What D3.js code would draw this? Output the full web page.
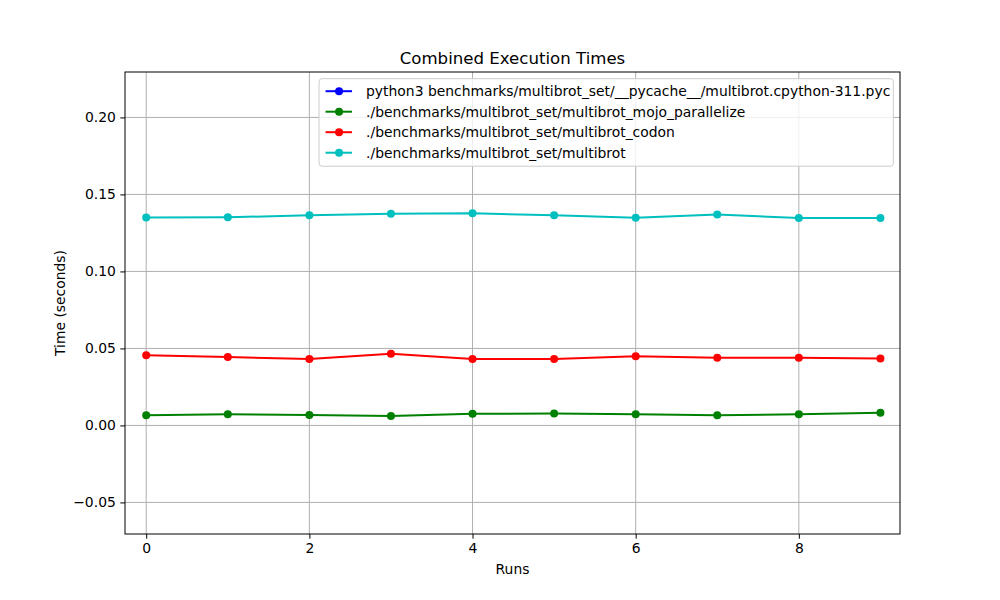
<!DOCTYPE html>
<html>
<head>
<meta charset="utf-8">
<script src="https://cdn.jsdelivr.net/npm/d3@7"></script>
<style>
  body { margin: 0; background: #fff; }
  text { font-family: "DejaVu Sans", sans-serif; fill: #000; }
</style>
</head>
<body>
<svg id="chart" width="1000" height="600"></svg>
<script>
// the data
const runs = [0, 1, 2, 3, 4, 5, 6, 7, 8, 9];
const pythonTimes = []; // nothing shows up on the plot for this one
const mojoTimes = [0.0066, 0.0072, 0.0067, 0.0062, 0.0076, 0.0077, 0.0073, 0.0066, 0.0073, 0.0083];
const codonTimes = [0.0456, 0.0444, 0.0432, 0.0465, 0.0431, 0.0432, 0.0450, 0.0439, 0.0440, 0.0435];
const multibrotTimes = [0.1350, 0.1352, 0.1364, 0.1375, 0.1377, 0.1365, 0.1348, 0.1370, 0.1347, 0.1347];

const seriesNames = [
    "python3 benchmarks/multibrot_set/__pycache__/multibrot.cpython-311.pyc",
    "./benchmarks/multibrot_set/multibrot_mojo_parallelize",
    "./benchmarks/multibrot_set/multibrot_codon",
    "./benchmarks/multibrot_set/multibrot"
];
const seriesValues = [pythonTimes, mojoTimes, codonTimes, multibrotTimes];
const seriesColors = ["#0000ff", "#008000", "#ff0000", "#00bfbf"];

const xTicks = [0, 2, 4, 6, 8];
const yTicks = [-0.05, 0.00, 0.05, 0.10, 0.15, 0.20];

const fontSize = "13.9px";

// The svg
let svg = d3.select("#chart");
let margin = {left: 125, right: 100, top: 72, bottom: 66};
let width = 1000 - margin.left - margin.right,
    height = 600 - margin.top - margin.bottom;

let x = d3.scaleLinear().domain([-0.26, 9.24]).range([0, width]);
let y = d3.scaleLinear().domain([-0.0705, 0.2295]).range([height, 0]);

let g = svg.append("g").attr("transform", `translate(${margin.left},${margin.top})`);

// grid
g.append("g").selectAll("line").data(xTicks).enter().append("line")
    .attr("x1", d => x(d)).attr("x2", d => x(d))
    .attr("y1", 0).attr("y2", height)
    .attr("stroke", "#b0b0b0").attr("stroke-width", 1);
g.append("g").selectAll("line").data(yTicks).enter().append("line")
    .attr("x1", 0).attr("x2", width)
    .attr("y1", d => y(d)).attr("y2", d => y(d))
    .attr("stroke", "#b0b0b0").attr("stroke-width", 1);

// lines + markers
let line = d3.line().x((d, i) => x(runs[i])).y(d => y(d));
seriesValues.forEach(function (vals, k) {
    if (vals.length === 0) return;
    g.append("path")
        .datum(vals)
        .attr("d", line)
        .attr("fill", "none")
        .attr("stroke", seriesColors[k])
        .attr("stroke-width", 2);
    g.append("g").selectAll("circle").data(vals).enter().append("circle")
        .attr("cx", (d, i) => x(runs[i]))
        .attr("cy", d => y(d))
        .attr("r", 4)
        .attr("fill", seriesColors[k]);
});

// axes
let xAxis = g.append("g").attr("transform", `translate(0,${height})`)
    .call(d3.axisBottom(x).tickValues(xTicks).tickFormat(d3.format("d")).tickSize(4.7).tickPadding(4.5));
let yAxis = g.append("g")
    .call(d3.axisLeft(y).tickValues(yTicks).tickFormat(d3.format(".2f")).tickSize(4.7).tickPadding(4.5));
[xAxis, yAxis].forEach(a => {
    a.select(".domain").remove();
    a.selectAll("text").attr("font-size", fontSize).attr("font-family", "DejaVu Sans");
    a.selectAll("line").attr("stroke", "#000").attr("stroke-width", 1);
});

// frame
g.append("rect").attr("width", width).attr("height", height)
    .attr("fill", "none").attr("stroke", "#000").attr("stroke-width", 1);

// labels
svg.append("text").attr("x", margin.left + width / 2).attr("y", 64)
    .attr("text-anchor", "middle").attr("font-size", "16.6px").text("Combined Execution Times");
svg.append("text").attr("x", margin.left + width / 2).attr("y", 574)
    .attr("text-anchor", "middle").attr("font-size", fontSize).text("Runs");
svg.append("text").attr("transform", "translate(65,303) rotate(-90)")
    .attr("text-anchor", "middle").attr("font-size", fontSize).text("Time (seconds)");

// legend
let legend = g.append("g");
let legendBox = legend.append("rect");
let rowGap = 20.5;
let items = legend.selectAll("g.item").data(seriesNames).enter().append("g")
    .attr("class", "item")
    .attr("transform", (d, i) => `translate(0,${i * rowGap})`);
items.append("line").attr("x1", 3.5).attr("x2", 30).attr("y1", 0).attr("y2", 0)
    .attr("stroke", (d, i) => seriesColors[i]).attr("stroke-width", 2);
items.append("circle").attr("cx", 17).attr("cy", 0).attr("r", 4)
    .attr("fill", (d, i) => seriesColors[i]);
items.append("text").attr("x", 44).attr("y", 0).attr("dy", "0.35em")
    .attr("font-size", fontSize).text(d => d);

let maxW = d3.max(items.selectAll("text").nodes(), n => n.getComputedTextLength());
let boxW = 44 + maxW + 6;
let boxH = 3 * rowGap + 26;
legendBox.attr("x", -3).attr("y", -12.5).attr("width", boxW).attr("height", boxH)
    .attr("rx", 3).attr("fill", "#fff").attr("fill-opacity", 0.8)
    .attr("stroke", "#cccccc").attr("stroke-width", 1);
legend.attr("transform", `translate(${width - 6.7 - boxW + 3},${6.7 + 12.5})`);
</script>
</body>
</html>
